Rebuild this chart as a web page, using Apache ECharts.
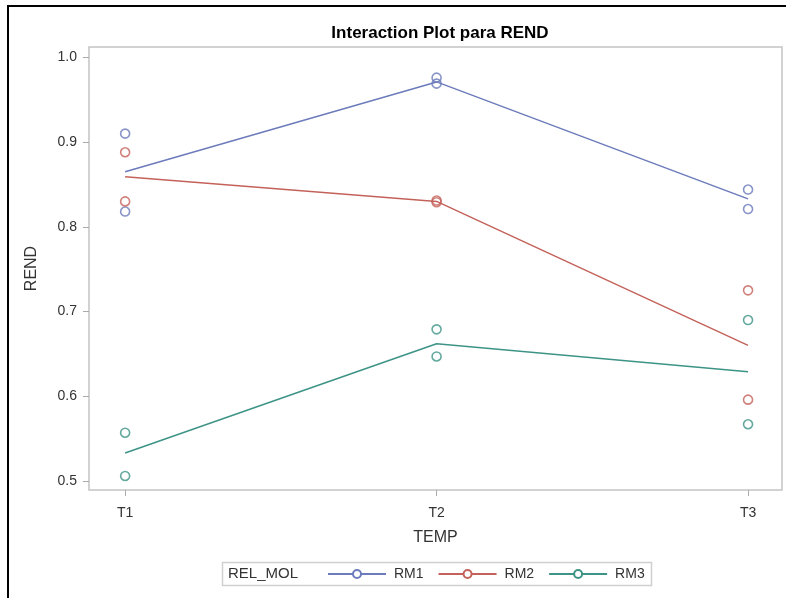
<!DOCTYPE html>
<html>
<head>
<meta charset="utf-8">
<script src="https://cdn.jsdelivr.net/npm/echarts@6/dist/echarts.min.js"></script>
<style>
html,body{margin:0;padding:0;background:#fff;}
#chart{width:786px;height:598px;}
</style>
</head>
<body>
<div id="chart"></div>
<script>
// Categories (x positions 1..3)
const categories = ['T1', 'T2', 'T3'];
const seriesNames = ['RM1', 'RM2', 'RM3'];
const yTicks = [0.5, 0.6, 0.7, 0.8, 0.9, 1.0];

// Observed points (REND) per category for each REL_MOL level
const rm1Points = [[1, 0.910], [1, 0.818], [2, 0.976], [2, 0.969], [3, 0.844], [3, 0.821]];
const rm2Points = [[1, 0.888], [1, 0.830], [2, 0.831], [2, 0.829], [3, 0.725], [3, 0.596]];
const rm3Points = [[1, 0.557], [1, 0.506], [2, 0.679], [2, 0.647], [3, 0.690], [3, 0.567]];

// Mean lines per level
const rm1Line = [[1, 0.865], [2, 0.971], [3, 0.833]];
const rm2Line = [[1, 0.859], [2, 0.830], [3, 0.660]];
const rm3Line = [[1, 0.533], [2, 0.662], [3, 0.629]];

const colors = ['#6c7bbb', '#c4625a', '#3d9486'];
const FONT = 'Liberation Sans, Arial, sans-serif';

const chart = echarts.init(document.getElementById('chart'), null, {renderer: 'canvas'});

const lineData = [rm1Line, rm2Line, rm3Line];
const pointData = [rm1Points, rm2Points, rm3Points];

const series = [];
seriesNames.forEach((n, i) => {
  series.push({
    name: n, type: 'line', data: lineData[i],
    symbol: 'emptyCircle', symbolSize: 7, showSymbol: false,
    lineStyle: {color: colors[i], width: 1.5},
    itemStyle: {color: colors[i], borderWidth: 1.5},
    emphasis: {disabled: true}, silent: true, z: 2
  });
});
seriesNames.forEach((n, i) => {
  series.push({
    name: n, type: 'scatter', data: pointData[i],
    symbol: 'circle', symbolSize: 9,
    itemStyle: {color: 'rgba(255,255,255,0)', borderColor: colors[i], borderWidth: 1.6},
    emphasis: {disabled: true}, silent: true, z: 3
  });
});

chart.setOption({
  animation: false,
  backgroundColor: '#fff',
  title: {
    text: 'Interaction Plot para REND',
    left: 435, top: 20, textAlign: 'center',
    textStyle: {fontFamily: FONT, fontSize: 17, fontWeight: 'bold', color: '#000'}
  },
  grid: {left: 89, top: 47, width: 693, height: 443, show: true, borderColor: '#c4c4c4', borderWidth: 1.5, backgroundColor: '#fff'},
  xAxis: {
    type: 'value', min: 0.884, max: 3.109,
    name: 'TEMP', nameLocation: 'middle', nameGap: 40,
    nameTextStyle: {fontFamily: FONT, fontSize: 16, color: '#333'},
    axisLine: {show: false},
    splitLine: {show: false},
    axisTick: {show: true, customValues: [1, 2, 3], length: 6, lineStyle: {color: '#aaa'}},
    axisLabel: {customValues: [1, 2, 3], formatter: v => categories[Math.round(v) - 1], fontFamily: FONT, fontSize: 14, color: '#333', margin: 16}
  },
  yAxis: {
    type: 'value', min: 0.4894, max: 1.0122,
    name: 'REND', nameLocation: 'middle', nameGap: 49, nameRotate: 90,
    nameTextStyle: {fontFamily: FONT, fontSize: 16, color: '#333'},
    axisLine: {show: false},
    splitLine: {show: false},
    axisTick: {show: true, customValues: yTicks, length: 6, lineStyle: {color: '#aaa'}},
    axisLabel: {customValues: yTicks, formatter: v => v.toFixed(1), fontFamily: FONT, fontSize: 14, color: '#333', margin: 12}
  },
  legend: {
    data: seriesNames.map(n => ({name: n})),
    left: 327, top: 567, padding: 0, itemWidth: 58, itemHeight: 10, itemGap: 14,
    textStyle: {fontFamily: FONT, fontSize: 14, color: '#333', padding: [0, 0, 0, 3]},
    selectedMode: false
  },
  graphic: [
    {type: 'rect', shape: {x: 8, y: 6, width: 800, height: 600}, style: {fill: 'none', stroke: '#000', lineWidth: 2}, silent: true},
    {type: 'rect', shape: {x: 222.5, y: 562.5, width: 429, height: 23}, style: {fill: 'none', stroke: '#d0d0d0', lineWidth: 1.5}, silent: true},
    {type: 'text', x: 228, y: 574, style: {text: 'REL_MOL', font: '15px ' + FONT, fill: '#333', verticalAlign: 'middle'}, silent: true}
  ],
  series: series
});
</script>
</body>
</html>
